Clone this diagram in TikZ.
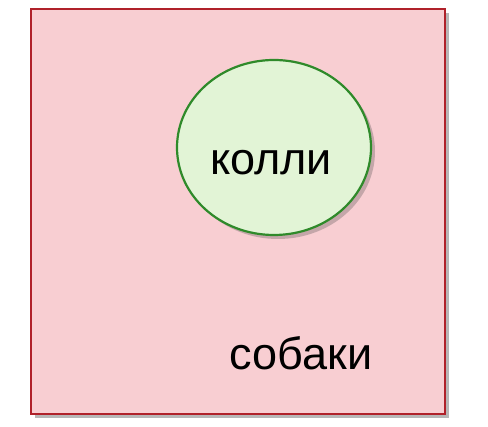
\documentclass[tikz,border=0pt]{standalone}
\usepackage{fontspec}
\setmainfont{Liberation Sans}
\usetikzlibrary{shapes.geometric,shadows}
\definecolor{setfill}{HTML}{F8CED2}
\definecolor{setdraw}{HTML}{B0212A}
\definecolor{subfill}{HTML}{E2F4D6}
\definecolor{subdraw}{HTML}{2F8A2A}
\tikzset{
  setbox/.style={draw=setdraw, fill=setfill, line width=2.2pt,
    drop shadow={shadow xshift=4pt, shadow yshift=-4pt, opacity=0.4, fill=black!70}},
  subset/.style={ellipse, draw=subdraw, fill=subfill, line width=2.2pt,
    drop shadow={shadow xshift=4pt, shadow yshift=-4pt, opacity=0.3, fill=black!70}},
  lbl/.style={font=\fontsize{45}{52}\selectfont, text=black, inner sep=0pt, anchor=base}
}
\begin{document}
\begin{tikzpicture}[x=1pt,y=-1pt]
\useasboundingbox (0,0) rectangle (488,427);
\node[setbox, minimum width=414pt, minimum height=405pt, inner sep=0pt] (dogs) at (238,211.5) {};
\node[subset, minimum width=194pt, minimum height=175pt, inner sep=0pt] (collie) at (274,147.5) {};
\node[lbl] (collielbl) at (271,175) {колли};
\node[lbl] (dogslbl) at (301,370) {собаки};
\end{tikzpicture}
\end{document}
